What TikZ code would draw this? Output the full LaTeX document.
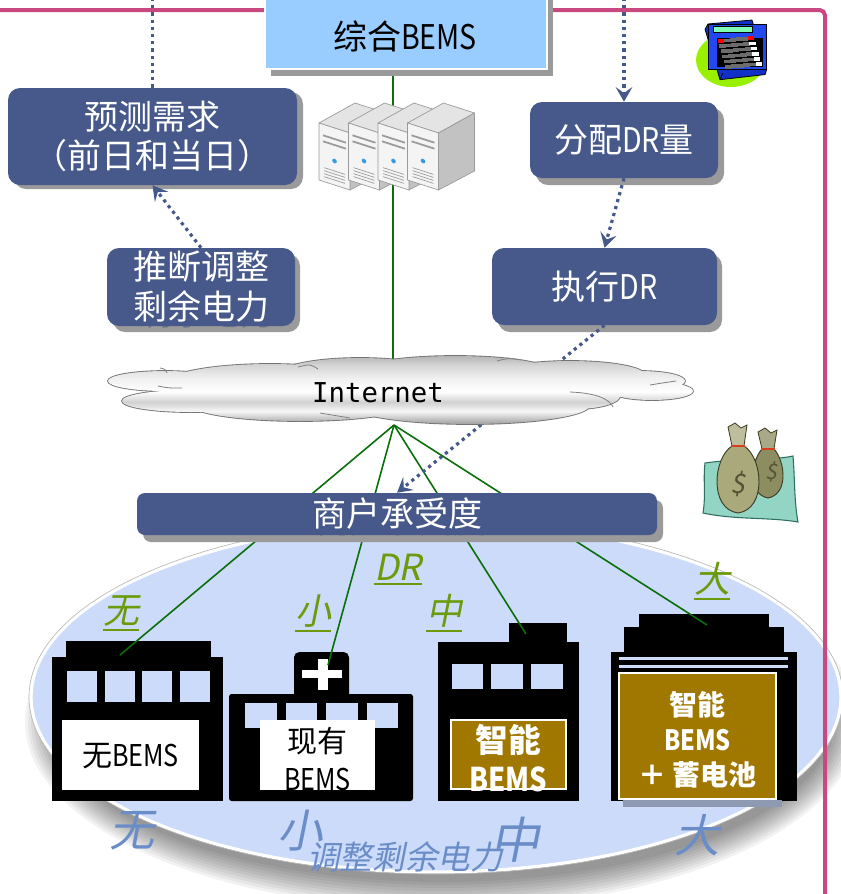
\documentclass[tikz,border=0pt]{standalone}
\usepackage{fontspec}
\setmainfont{Noto Sans CJK SC}
\newfontfamily\slcjk[FakeSlant=0.2]{Noto Sans CJK SC}
\newfontfamily\narrowf[FakeStretch=0.84]{Noto Sans CJK SC}
\newfontfamily\monof{DejaVu Sans Mono}
\usetikzlibrary{arrows.meta}

\definecolor{boxc}{HTML}{46598A}
\definecolor{shadc}{HTML}{9A9A9A}
\definecolor{pinkc}{HTML}{C8487F}
\definecolor{discc}{HTML}{CBDBF9}
\definecolor{labgreen}{HTML}{6B9B0B}
\definecolor{labblue}{HTML}{6A8DC8}
\definecolor{goldc}{HTML}{A07800}
\definecolor{wiregreen}{HTML}{0A6E0A}
\definecolor{bemsc}{HTML}{99CCFF}
\definecolor{dotc}{HTML}{45588A}
\definecolor{limec}{HTML}{99F000}
\definecolor{calcblue}{HTML}{2448F0}
\definecolor{calcside}{HTML}{1030C8}
\definecolor{calcscreen}{HTML}{80FFB4}
\definecolor{keyc}{HTML}{6C6C6C}
\definecolor{tealc}{HTML}{92D5C5}
\definecolor{tealdk}{HTML}{2F6F60}
\definecolor{bagc}{HTML}{A9A97C}
\definecolor{bagdark}{HTML}{8D8D62}
\definecolor{bagline}{HTML}{3C3C22}
\definecolor{tiec}{HTML}{D8401C}
\definecolor{ghostc}{HTML}{6E7686}
\definecolor{srvfront}{HTML}{F4F4F4}
\definecolor{srvtop}{HTML}{E4E4E4}
\definecolor{srvside}{HTML}{C2C2C2}
\definecolor{srvline}{HTML}{9A9A9A}
\definecolor{srvled}{HTML}{3A9AE0}
\definecolor{signshade}{HTML}{8E99B2}

\def\pxl{0.75pt}

% vertical light-and-shade bands of the cloud (the cloud spans 25bp..75bp)
\pgfdeclareverticalshading{cloudbands}{100bp}{color(0bp)=(black!48); color(25bp)=(black!48);
  color(30bp)=(black!28); color(36bp)=(black!3); color(42bp)=(black!18); color(49bp)=(white);
  color(58bp)=(black!6); color(66bp)=(black!16); color(75bp)=(black!34); color(100bp)=(black!34)}

% a money bag: centre x, neck y, flap top y, bottom y, body half-width, fill
\newcommand\moneybag[6]{%
  \filldraw[fill=#6, draw=bagline, line width=0.7pt]
    ({#1-6},#2) .. controls ({#1-#5},{#2+12}) and ({#1-#5-4},{#4-4}) .. ({#1},#4)
    .. controls ({#1+#5+4},{#4-4}) and ({#1+#5},{#2+12}) .. ({#1+6},#2) -- cycle;
  \filldraw[fill=#6!75!white, draw=bagline, line width=0.6pt]
    ({#1-6},#2) -- ({#1-10},{#3+4}) -- ({#1-3},#3) -- ({#1+3},{#3+5}) -- ({#1+9},{#3+2}) -- ({#1+6},#2) -- cycle;
  \draw[tiec, line width=2.2pt] ({#1-7},#2) -- ({#1+7},#2);
}

\begin{document}
\begin{tikzpicture}[x=0.75pt, y=-0.75pt,
  dbox/.style={fill=boxc, rounded corners=9pt, text=white, align=center, inner sep=0pt,
    font=\fontsize{25.5pt}{29pt}\selectfont},
  boxshadow/.style={fill=shadc, rounded corners=9pt},
  ghost/.style={text=ghostc, align=center, inner sep=0pt, font=\fontsize{25.5pt}{30pt}\selectfont},
  dotlink/.style={draw=dotc, line width=2.4pt, dash pattern=on 2.4pt off 3pt},
  headed/.style={-{Stealth[length=11pt,width=12.5pt,inset=4.5pt]}},
  wire/.style={draw=wiregreen, line width=1.2pt},
  signtxt/.style={text=black, align=center, inner sep=0pt, font=\fontsize{22.5pt}{28.5pt}\selectfont},
  goldtxt/.style={text=white, align=center, inner sep=0pt},
  glab/.style={text=labgreen, inner sep=0pt, font=\slcjk\fontsize{27pt}{30pt}\selectfont},
  blab/.style={text=labblue, inner sep=0pt, font=\slcjk\fontsize{34pt}{36pt}\selectfont},
  win/.style={fill=discc},
  uline/.style={draw=labgreen, line width=1.4pt},
  crease/.style={draw=black!50, line width=0.6pt}
]
\useasboundingbox (0,0) rectangle (841,894);
\clip (0,0) rectangle (841,894);

% ---------- disc of customers with its soft shadow ----------
\foreach \i in {0,...,9}
  \fill[black, opacity=0.05] (442,722) ellipse [x radius={417-3*\i}, y radius={187-3*\i}];
\fill[discc] (436,697) ellipse [x radius=405, y radius=175];
\draw[white, line width=2.5pt] (436,697) ellipse [x radius=405, y radius=175];
\draw[gray!55, line width=0.5pt] (436,697) ellipse [x radius=407, y radius=177];

% ---------- frame line ----------
\draw[pinkc, line width=3pt, rounded corners=4pt] (-5,10) -- (825,10) -- (825,900);

% ---------- buildings ----------
% no BEMS
\fill[black] (66,641) rectangle (211,658);
\fill[black] (52,657) rectangle (223,801);
\fill[win] (67,671) rectangle (97,702);
\fill[win] (105,671) rectangle (135,702);
\fill[win] (142,671) rectangle (172,702);
\fill[win] (180,671) rectangle (210,702);
\fill[white] (62,720) rectangle (199,790);
\node[signtxt] (s1) at (130.5,756) {无{\narrowf BEMS}};

% existing BEMS (hospital)
\fill[black, rounded corners=4pt] (294,652) rectangle (349,702);
\fill[white] (318,659) rectangle (328,690);
\fill[white] (302,670) rectangle (342,678);
\fill[black, rounded corners=2pt] (229,694) rectangle (413,801);
\fill[win] (245,703) rectangle (277,728);
\fill[win] (286,703) rectangle (317,728);
\fill[win] (326,703) rectangle (358,728);
\fill[win] (367,703) rectangle (398,728);
\fill[white] (260,720) rectangle (375,790);
\node[signtxt] (s2) at (317.5,759) {现有\\{\narrowf BEMS}};

% smart BEMS
\fill[black] (509,623) rectangle (567,643);
\fill[black] (438,642) rectangle (579,801);
\fill[win] (452,664) rectangle (483,689);
\fill[win] (491,664) rectangle (523,689);
\fill[win] (531,664) rectangle (563,689);
\filldraw[fill=goldc, draw=white, line width=1.2pt] (451,720) rectangle (566,789);
\node[goldtxt, font=\bfseries\fontsize{24.5pt}{29pt}\selectfont] (s3) at (508.5,758) {智能\\{\narrowf BEMS}};

% smart BEMS + storage battery
\fill[black] (639,614) rectangle (769,628);
\fill[black] (624,627) rectangle (784,653);
\fill[black] (611,652) rectangle (797,801);
\fill[win] (619,657) rectangle (788,660);
\fill[win] (619,665) rectangle (788,668);
\fill[signshade] (623,800) rectangle (782,807);
\filldraw[fill=goldc, draw=white, line width=1.2pt] (619,673) rectangle (776,799);
\node[goldtxt, font=\bfseries\fontsize{21pt}{26.25pt}\selectfont] (s4) at (697.5,740) {智能\\{\narrowf BEMS}\\＋ 蓄电池};

% ---------- DR level labels ----------
\node[glab] (g1) at (121,611) {无};
\node[glab] (g2) at (313,611) {小};
\node[glab] (gdr) at (398,567) {DR};
\node[glab] (g3) at (444,611) {中};
\node[glab] (g4) at (712,579) {大};
\foreach \g in {g1,g2,gdr,g3,g4}
  \draw[uline] ([yshift=-2.5pt]\g.south west) -- ([yshift=-2.5pt]\g.south east);

\node[blab] (r1) at (132,831) {无};
\node[blab] (r2) at (300,831) {小};
\node[blab, font=\slcjk\fontsize{37pt}{38pt}\selectfont] (r3) at (515,840) {中};
\node[blab] (r4) at (697,835) {大};
\node[text=labblue, inner sep=0pt, font=\slcjk\fontsize{24.5pt}{26pt}\selectfont] (r5) at (405,857) {调整剩余电力};

% ---------- network wiring ----------
\coordinate (hub) at (394,425);
\coordinate (b1) at (120,655);
\coordinate (b2) at (328,665);
\coordinate (b3) at (526,634);
\coordinate (b4) at (707,625);
\foreach \b in {b1,b2,b3,b4}
  \draw[wire] (hub) -- (\b);
\coordinate (bemsout) at (393,69);
\coordinate (net) at (393,395);
\draw[wire] (bemsout) -- (net);

% ---------- server rack ----------
\foreach \k in {0,1,2,3} {
  \pgfmathsetmacro\xo{319+29.5*\k}
  \filldraw[fill=srvtop, draw=srvline, line width=0.5pt, line join=round]
    (\xo,123) -- (\xo+31,133) -- (\xo+67,113) -- (\xo+36,103) -- cycle;
  \filldraw[fill=srvside, draw=srvline, line width=0.5pt, line join=round]
    (\xo+31,133) -- (\xo+67,113) -- (\xo+67,171) -- (\xo+31,190) -- cycle;
  \filldraw[fill=srvfront, draw=srvline, line width=0.5pt, line join=round]
    (\xo,123) -- (\xo+31,133) -- (\xo+31,190) -- (\xo,180) -- cycle;
  \begin{scope}[shift={(\xo,123)}, yslant=-0.3226]
    \draw[srvline, line width=1.3pt] (4,11) -- (27,11) (4,17) -- (27,17);
    \fill[srvled] (15.5,33) circle (2.3);
    \draw[srvline, line width=0.5pt] (5,43) -- (26,43) (5,46) -- (26,46) (5,49) -- (26,49) (5,52) -- (26,52);
  \end{scope}
}

% ---------- calculator ----------
\fill[limec] (731,60) ellipse [x radius=35, y radius=27];
\begin{scope}[shift={(708,24)}, x={(33pt,3pt)}, y={(11pt,-37pt)}]
  % thick body edge on the left and at the bottom
  \filldraw[fill=calcside, draw=black, line width=0.6pt]
    (0,0) -- (1,0) -- (1,1) -- (0.93,1.1) -- (-0.1,1.12) -- (-0.1,0.1) -- cycle;
  \draw[black, line width=0.5pt] (0,1) -- (-0.1,1.12);
  \filldraw[fill=calcblue, draw=black, line width=0.6pt] (0,0) rectangle (1,1);
  \filldraw[fill=calcscreen, draw=black, line width=0.4pt] (0.1,0.06) rectangle (0.92,0.24);
  \fill[black] (0.1,0.3) rectangle (0.94,0.95);
  \foreach \r in {0,...,5}
    \foreach \c in {0,...,5}
      \fill[keyc] ({0.115+0.137*\c},{0.315+0.105*\r}) rectangle ++(0.115,0.083);
  \foreach \r in {1,...,5}
    \fill[white] ({0.115+0.137*5},{0.315+0.105*\r}) rectangle ++(0.115,0.083);
  \fill[red] (0.115,0.315) rectangle ++(0.115,0.083);
  \fill[red] ({0.115+0.137*5},0.315) rectangle ++(0.115,0.083);
\end{scope}

% ---------- money bags ----------
\filldraw[fill=tealc, draw=tealdk, line width=0.8pt]
  (705,463) .. controls (740,458) and (770,461) .. (793,456)
  .. controls (795,480) and (794,500) .. (798,522)
  .. controls (770,517) and (735,520) .. (703,513)
  .. controls (706,495) and (703,480) .. (705,463) -- cycle;
\moneybag{768}{449}{428}{498}{17}{bagdark}
\node[text=bagline!70!bagdark, inner sep=0pt, font=\slcjk\fontsize{16pt}{16pt}\selectfont] (d2) at (771,472) {\$};
\moneybag{738}{446}{423}{513}{25}{bagc}
\node[text=bagline!80!bagc, inner sep=0pt, font=\slcjk\fontsize{20pt}{20pt}\selectfont] (d1) at (738,484) {\$};

% ---------- boxes ----------
% integrated BEMS
\fill[shadc] (271,-10) rectangle (553,76);
\node[draw=white, line width=1.5pt, fill=bemsc, minimum width=282*\pxl, minimum height=82*\pxl, inner sep=0pt] (bems) at (406,28) {};
\node[text=black, inner sep=0pt, font=\fontsize{25.5pt}{29pt}\selectfont] (bemst) at (405,36) {综合{\narrowf BEMS}};

% demand forecast
\fill[boxshadow] (14,92) rectangle (303,189);
\node[dbox, minimum width=289*\pxl, minimum height=97*\pxl, font=\fontsize{25.5pt}{29.5pt}\selectfont] (fc) at (152.5,136.5) {预测需求\\（前日和当日）};

% DR allocation
\fill[boxshadow] (536,108) rectangle (724,185);
\node[dbox, minimum width=188*\pxl, minimum height=76*\pxl] (dr) at (624,140) {分配{\narrowf DR}量};

% estimating adjustable surplus
\fill[boxshadow] (113,254) rectangle (300,332);
\node[ghost] (infg) at (206,293) {推断调整\\剩余电力};
\node[dbox, minimum width=188*\pxl, minimum height=78*\pxl, font=\fontsize{25.5pt}{30pt}\selectfont] (inf) at (201,287) {推断调整\\剩余电力};

% DR execution
\fill[boxshadow] (498,254) rectangle (722,332);
\node[dbox, minimum width=225*\pxl, minimum height=77*\pxl] (ex) at (604.5,286.5) {执行{\narrowf DR}};

% tenant tolerance bar
\fill[shadc, rounded corners=6pt] (143,500) rectangle (663,542);
\node[ghost] (barg) at (401,521) {商户承受度};
\node[dbox, rounded corners=6pt, minimum width=520*\pxl, minimum height=42*\pxl] (bar) at (397,514) {商户承受度};

% ---------- information flow ----------
\coordinate (topL) at (152.5,-2);
\coordinate (topR) at (624,-2);
\draw[dotlink] (topL) -- (fc.north);
\draw[dotlink, headed] (topR) -- (dr.north);
\draw[dotlink, headed] (inf.north) -- (fc.south);
\draw[dotlink, headed] (dr.south) -- (ex.north);
\draw[dotlink, headed] (ex.south) -- (bar.north);

% ---------- Internet cloud ----------
\def\lobes{400/390/230/25, 165/381/57/10, 190/401/68/11, 640/381/45/10,
    652/391/41/9, 300/404/110/17, 470/405/120/19, 575/396/45/13, 270/384/105/20,
    360/374/80/16, 455/371/95/15, 570/375/75/14}
% outline of the whole cloud
\foreach \cx/\cy/\rx/\ry in \lobes
  \draw[draw=black!55, line width=1.3pt] (\cx,\cy) ellipse [x radius=\rx, y radius=\ry];
% one light body filling all puffs
\begin{scope}
  \clip \foreach \cx/\cy/\rx/\ry in \lobes { (\cx,\cy) ellipse [x radius=\rx, y radius=\ry] };
  \shade[shading=cloudbands] (100,352) rectangle (700,428);
\end{scope}
% creases between the puffs
\draw[crease] (298,367) .. controls (310,364) .. (318,369);
\draw[crease] (497,361) .. controls (508,358) .. (521,360);
\draw[crease] (570,392) .. controls (598,393) and (610,400) .. (613,407);
\draw[crease] (158,386) .. controls (168,388) .. (182,388);
\draw[crease] (650,385) .. controls (662,383) .. (676,381);
\draw[crease] (160,368) .. controls (165,369) .. (167,373);
\draw[crease] (320,413) .. controls (335,416) .. (350,418);
\node[inner sep=0pt, font=\monof\fontsize{20.5pt}{21pt}\selectfont] (inet) at (378,393) {Internet};

\end{tikzpicture}
\end{document}
